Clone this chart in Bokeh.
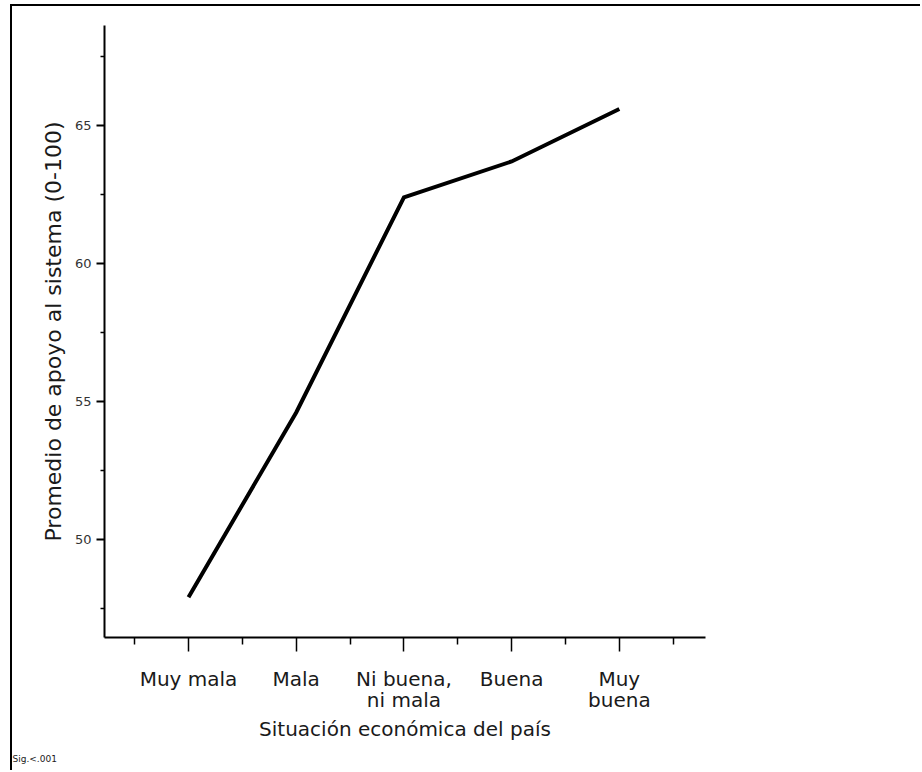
from bokeh.plotting import figure
from bokeh.models import Range1d, FixedTicker, Title
from bokeh.embed import file_html
from bokeh.resources import INLINE

# ---- data ----
categories = ["Muy mala", "Mala", "Ni buena,\nni mala", "Buena", "Muy\nbuena"]
support = [47.9, 54.6, 62.4, 63.7, 65.6]
y_ticks = [50, 55, 60, 65]
y_minor_ticks = [47.5, 52.5, 57.5, 62.5, 67.5]
x_title = "Situación económica del país"
y_title = "Promedio de apoyo al sistema (0-100)"
note = "Sig.<.001"

x_pos = list(range(1, len(categories) + 1))
x_minor = [i - 0.5 for i in x_pos] + [len(categories) + 0.5]

OX, OY = 12, 6          # where the figure starts on the page (outer frame)
W, H = 922 - OX, 772 - OY
FL = 104 - OX           # frame left
FT = 25 - OY            # frame top
FR = 705 - OX           # frame right
FB = 637 - OY           # frame bottom

FONT = "DejaVu Sans"

p = figure(width=W, height=H, output_backend="svg", toolbar_location=None, title=None,
           x_range=Range1d(0.22, 5.80), y_range=Range1d(46.44, 68.63),
           min_border_left=FL, min_border_right=W - FR, min_border_top=FT,
           min_border_bottom=H - FB,
           x_axis_label=x_title, y_axis_label=y_title)

p.styles = {"margin-left": "10px", "margin-top": "4px",
            "border-left": "2px solid black", "border-top": "2px solid black"}

p.xgrid.visible = False
p.ygrid.visible = False
p.outline_line_color = None
p.background_fill_color = "white"
p.border_fill_color = "white"

xa = p.xaxis[0]
xa.ticker = FixedTicker(ticks=x_pos, minor_ticks=x_minor)
xa.major_label_overrides = {i: c for i, c in zip(x_pos, categories)}
xa.axis_line_color = "black"
xa.axis_line_width = 2
xa.major_tick_line_color = "black"
xa.major_tick_line_width = 1.5
xa.major_tick_in = 0
xa.major_tick_out = 14
xa.minor_tick_line_color = "black"
xa.minor_tick_line_width = 1.5
xa.minor_tick_in = 0
xa.minor_tick_out = 7
xa.major_label_standoff = 15
xa.major_label_text_font = FONT
xa.major_label_text_font_size = "20px"
xa.major_label_text_color = "#1a1a1a"
xa.major_label_text_line_height = 0.88
xa.axis_label_standoff = 2
xa.axis_label_text_font = FONT
xa.axis_label_text_font_size = "20px"
xa.axis_label_text_font_style = "normal"
xa.axis_label_text_color = "#1a1a1a"

ya = p.yaxis[0]
ya.ticker = FixedTicker(ticks=y_ticks, minor_ticks=y_minor_ticks)
ya.axis_line_color = "black"
ya.axis_line_width = 2
ya.major_tick_line_color = "black"
ya.major_tick_line_width = 2
ya.major_tick_in = 0
ya.major_tick_out = 8
ya.minor_tick_line_color = "black"
ya.minor_tick_line_width = 1.5
ya.minor_tick_in = 0
ya.minor_tick_out = 4
ya.major_label_standoff = 5
ya.major_label_text_font = FONT
ya.major_label_text_font_size = "13px"
ya.major_label_text_color = "#333333"
ya.axis_label_standoff = 6
ya.axis_label_text_font = FONT
ya.axis_label_text_font_size = "22px"
ya.axis_label_text_font_style = "normal"
ya.axis_label_text_color = "#1a1a1a"

p.line(x_pos, support, line_color="black", line_width=4, line_join="miter")

p.add_layout(Title(text=note, align="left", offset=-FL, standoff=16,
                   text_font=FONT, text_font_size="9px", text_font_style="normal",
                   text_color="#1a1a1a"), "below")

open("out.html", "w").write(file_html(p, INLINE))
